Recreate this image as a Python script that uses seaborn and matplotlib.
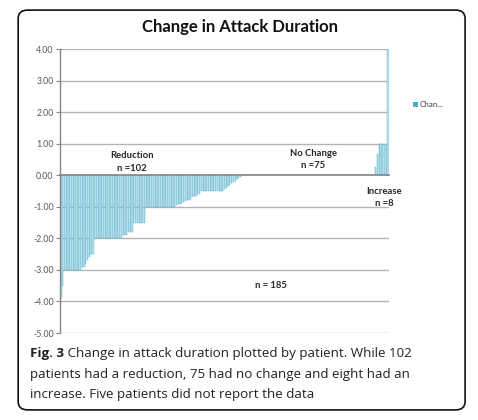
import numpy as np
import pandas as pd
import matplotlib
matplotlib.use("Agg")
import matplotlib.pyplot as plt
import seaborn as sns
from matplotlib.patches import FancyBboxPatch, Rectangle

# change in attack duration per patient, sorted
reduction = ([-3.9, -3.5] + [-3.0] * 10
             + [-2.9, -2.9, -2.8, -2.7, -2.6, -2.5, -2.5]
             + [-2.0] * 16
             + [-1.9, -1.9, -1.9, -1.8, -1.8, -1.8]
             + [-1.5] * 7
             + [-1.0] * 17
             + [-0.95, -0.92, -0.9, -0.88, -0.85, -0.83, -0.8, -0.8,
                -0.75, -0.7, -0.67, -0.65, -0.6, -0.6]
             + [-0.5] * 13
             + [-0.45, -0.4, -0.35, -0.3, -0.25, -0.2, -0.17, -0.13, -0.1, -0.05])
no_change = [0.0] * 75
increase = [0.25, 0.67, 1.0, 1.0, 1.0, 1.0, 1.0, 4.0]
values = reduction + no_change + increase
y_ticks = [-5, -4, -3, -2, -1, 0, 1, 2, 3, 4]

df = pd.DataFrame({"patient": np.arange(len(values)), "change": values})

sns.set_theme(style="white")
plt.rcParams['font.family'] = ['Lato', 'DejaVu Sans']

fig = plt.figure(figsize=(4.78, 4.2), dpi=100)
ax = fig.add_axes([0.1255, 0.2071, 0.6883, 0.6762])

sns.barplot(data=df, x="patient", y="change", color="#c4e5ef",
            saturation=1, width=0.7, edgecolor="#4bacc6", linewidth=0.3, ax=ax)

ax.set_xlim(-0.5, len(values) - 0.5)
ax.set_ylim(-5, 4)
ax.set_yticks(y_ticks)
ax.set_yticklabels([f"{v:.2f}" for v in y_ticks], color="#595959", fontsize=6.3)
ax.set_xticks(np.arange(len(values)) - 0.5)
ax.set_xticklabels([])
ax.tick_params(axis="x", direction="out", length=1.5, color="#868686", width=0.5, pad=0)
ax.tick_params(axis="y", direction="out", length=3, color="#868686", width=0.8, pad=1.5, left=True)
ax.set_xlabel("")
ax.set_ylabel("")

for v in y_ticks:
    if v != 0:
        ax.axhline(v, color="#b3b3b3", lw=1.0, zorder=0)
for s in ["top", "right"]:
    ax.spines[s].set_visible(False)
ax.spines["left"].set_color("#868686")
ax.spines["left"].set_linewidth(1.0)
ax.spines["bottom"].set_position(("data", 0))
ax.spines["bottom"].set_color("#868686")
ax.spines["bottom"].set_linewidth(1.2)
ax.set_axisbelow(True)

lab = dict(fontsize=6.8, fontweight="bold", color="#262626", ha="center", va="center",
           linespacing=1.5)
ax.text(40, 0.42, "Reduction\nn =102", **lab)
ax.text(142, 0.5, "No Change\nn =75", **lab)
ax.text(182, -0.7, "Increase\nn =8", **lab)
ax.text(118, -3.5, "n = 185", **lab)

fig.text(0.502, 0.935, "Change in Attack Duration", ha="center", va="center",
         fontsize=12, fontweight="bold", color="#111111")

# legend
fig.patches.append(Rectangle((0.864, 0.745), 0.0105, 0.012, transform=fig.transFigure,
                             facecolor="#4bacc6", edgecolor="none"))
fig.text(0.877, 0.751, "Chan...", fontsize=5.8, color="#404040", va="center")

# frame round chart and caption
fig.patches.append(FancyBboxPatch((0.038, 0.024), 0.935, 0.952,
                                  boxstyle="round,pad=0,rounding_size=0.02",
                                  transform=fig.transFigure, facecolor="none",
                                  edgecolor="#111111", linewidth=1.2))

cap_font = ['Open Sans', 'DejaVu Sans']
cap = dict(fontsize=9.6, color="#222222", family=cap_font, va="baseline")
t = fig.text(0.062, 0.149, "Fig. 3", fontweight="bold", **cap)
fig.canvas.draw()
bb = t.get_window_extent(renderer=fig.canvas.get_renderer())
x1 = bb.x1 / fig.bbox.width
fig.text(x1, 0.149, " Change in attack duration plotted by patient. While 102", **cap)
fig.text(0.062, 0.101, "patients had a reduction, 75 had no change and eight had an", **cap)
fig.text(0.062, 0.053, "increase. Five patients did not report the data", **cap)

fig.savefig("out.png", dpi=100, facecolor="white")
